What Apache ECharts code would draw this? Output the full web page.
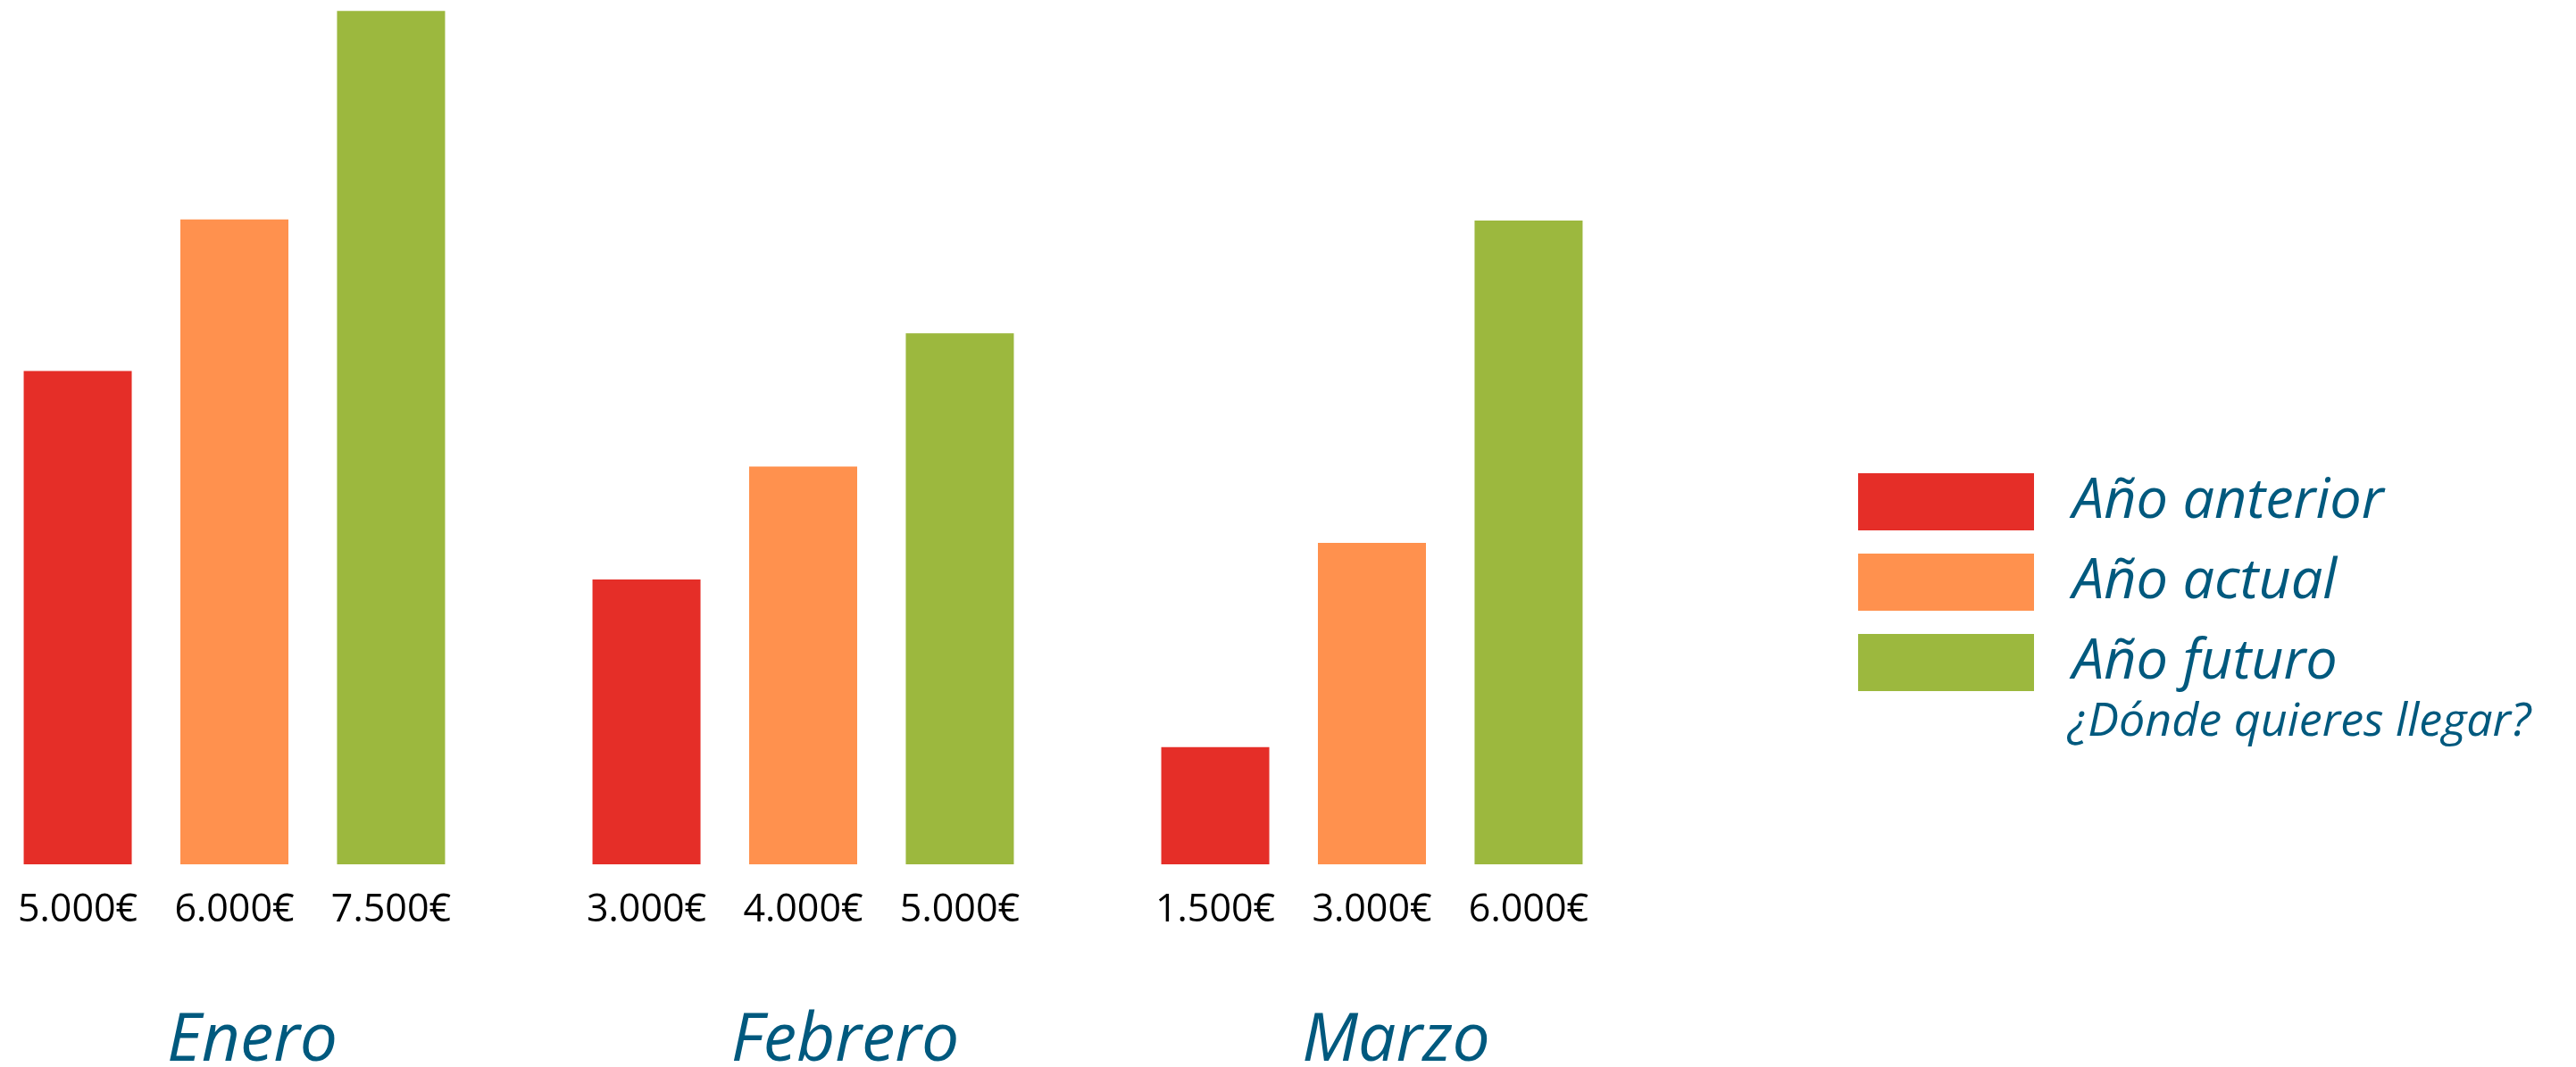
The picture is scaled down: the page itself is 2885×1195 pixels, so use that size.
<!DOCTYPE html>
<html>
<head>
<meta charset="utf-8">
<script src="https://cdn.jsdelivr.net/npm/echarts@6/dist/echarts.min.js"></script>
<style>
html,body{margin:0;padding:0;background:#fff;}
#chart{width:2885px;height:1195px;}
</style>
</head>
<body>
<div id="chart"></div>
<script>
// Categories (months)
var months = ['Enero', 'Febrero', 'Marzo'];
// Series names
var seriesNames = ['Año anterior', 'Año actual', 'Año futuro'];
// Bar heights as drawn in the picture (euro scale)
var barAnterior = [4590, 2650, 1090];
var barActual   = [6000, 3700, 2990];
var barFuturo   = [7940, 4940, 5990];
// Printed labels under the bars
var labelAnterior = ['5.000€', '3.000€', '1.500€'];
var labelActual   = ['6.000€', '4.000€', '3.000€'];
var labelFuturo   = ['7.500€', '5.000€', '6.000€'];
var legendNote = '¿Dónde quieres llegar?';

var colors = ['#E52E28', '#FF914E', '#9CB83E'];
var textBlue = '#00597E';
var monthShift = [40, 94, 54];

var chart = echarts.init(document.getElementById('chart'), null, {renderer: 'canvas', width: 2885, height: 1195});

function makeSeries(name, data, labels, color) {
  return {
    name: name,
    type: 'bar',
    data: data,
    barWidth: 121,
    barGap: '45%',
    clip: false,
    itemStyle: {color: color},
    label: {
      show: true,
      position: 'bottom',
      distance: 30,
      color: '#000',
      fontFamily: '"Open Sans", "Noto Sans", sans-serif',
      fontSize: 43,
      lineHeight: 43,
      formatter: function (p) { return labels[p.dataIndex]; }
    },
    emphasis: {disabled: true}
  };
}

var option = {
  animation: false,
  backgroundColor: '#ffffff',
  grid: {left: 262.5, width: 1274, top: 5, height: 963, containLabel: false, outerBoundsMode: 'none'},
  xAxis: {
    type: 'category',
    boundaryGap: false,
    data: months.map(function (m, i) {
      return {value: m, textStyle: {padding: [0, 0, 0, monthShift[i]]}};
    }),
    axisLine: {show: false},
    axisTick: {show: false},
    splitLine: {show: false},
    axisLabel: {
      margin: 161,
      color: textBlue,
      fontSize: 75,
      lineHeight: 75,
      fontStyle: 'italic',
      fontFamily: '"Open Sans", "Noto Sans", sans-serif'
    }
  },
  yAxis: {
    type: 'value',
    min: 0,
    max: 8000,
    show: false,
    splitLine: {show: false}
  },
  legend: {
    orient: 'vertical',
    left: 2076,
    top: 525,
    itemWidth: 197,
    itemHeight: 64,
    itemGap: 26,
    icon: 'rect',
    selectedMode: false,
    data: seriesNames,
    textStyle: {
      color: textBlue,
      fontSize: 63,
      lineHeight: 64,
      fontStyle: 'italic',
      fontFamily: '"Open Sans", "Noto Sans", sans-serif',
      padding: [0, 0, 0, 38]
    }
  },
  graphic: [{
    type: 'text',
    left: 2316,
    top: 783,
    style: {
      text: legendNote,
      fill: textBlue,
      font: 'italic 52px "Open Sans", "Noto Sans", sans-serif'
    }
  }],
  series: [
    makeSeries(seriesNames[0], barAnterior, labelAnterior, colors[0]),
    makeSeries(seriesNames[1], barActual, labelActual, colors[1]),
    makeSeries(seriesNames[2], barFuturo, labelFuturo, colors[2])
  ]
};
chart.setOption(option);
</script>
</body>
</html>
